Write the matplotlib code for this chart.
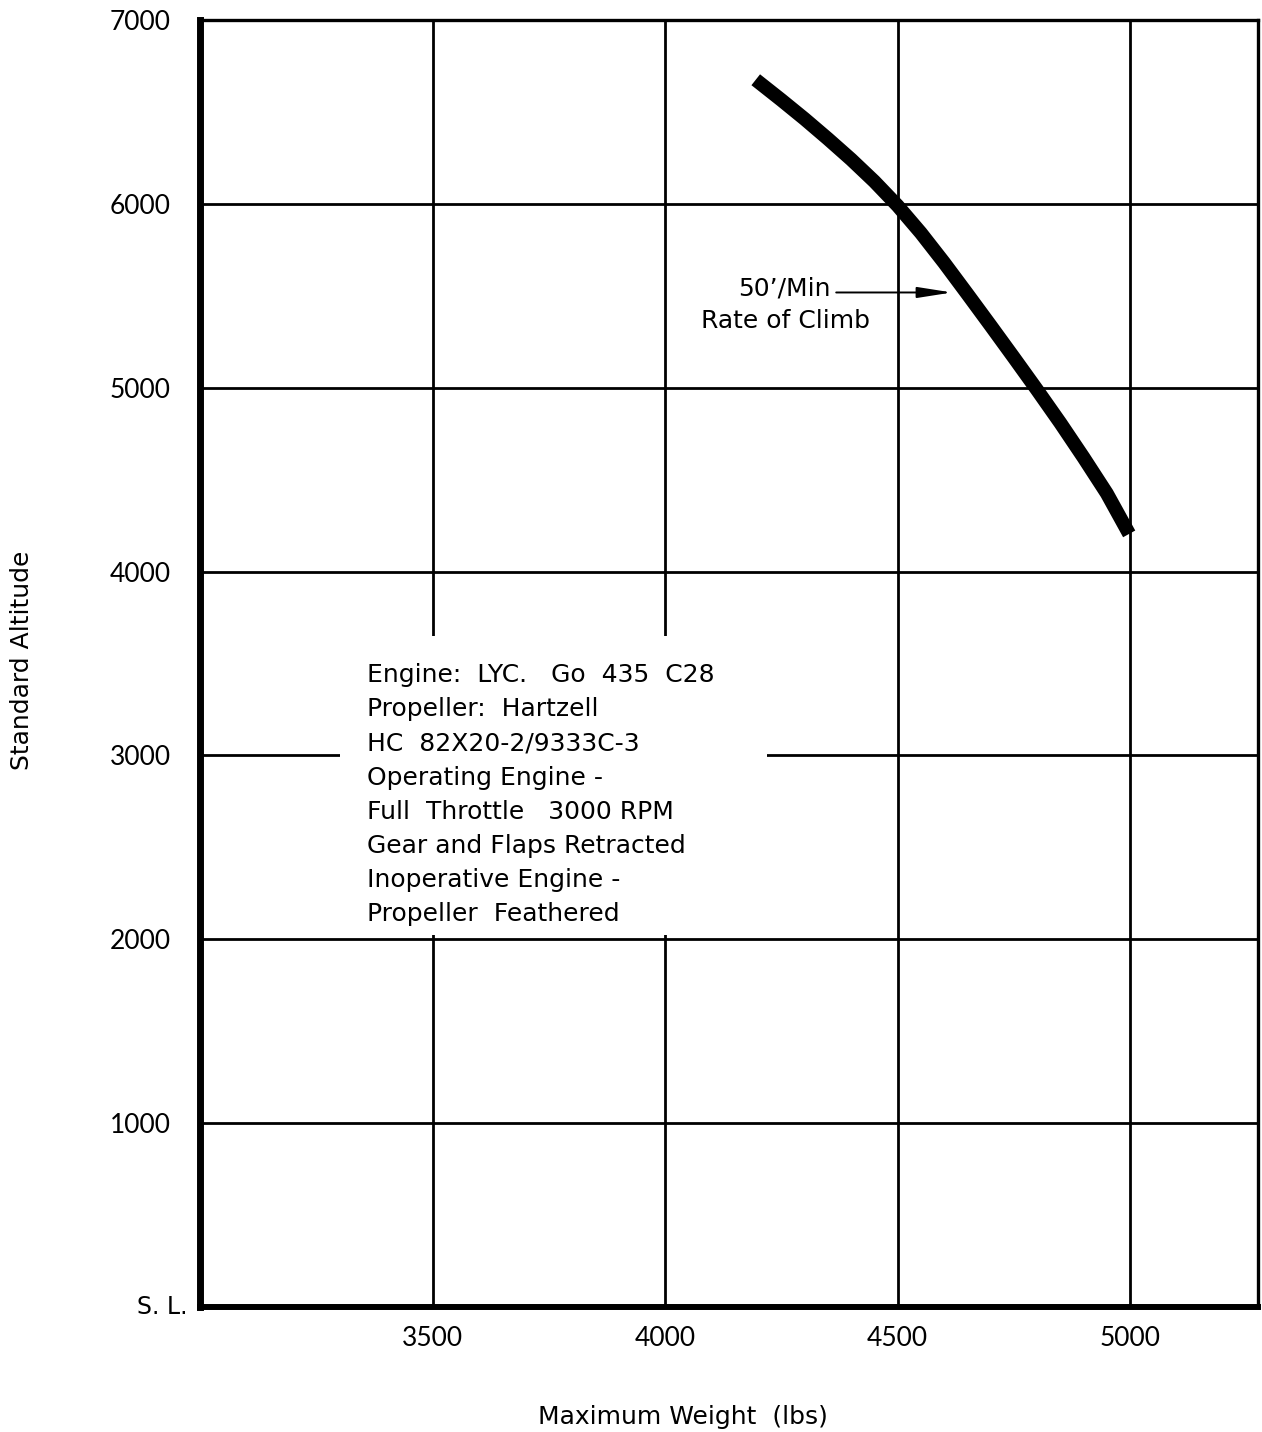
import matplotlib.pyplot as plt
from matplotlib.patches import Rectangle

# 50 ft/min rate-of-climb line (single engine)
weight = [4195, 4250, 4300, 4350, 4400, 4450, 4500, 4550, 4600, 4650,
          4700, 4750, 4800, 4850, 4900, 4950, 4998]
altitude = [6675, 6565, 6462, 6354, 6242, 6122, 5990, 5842, 5680, 5510,
            5338, 5164, 4988, 4808, 4620, 4425, 4205]

x_ticks = [3500, 4000, 4500, 5000]
y_ticks = [1000, 2000, 3000, 4000, 5000, 6000, 7000]

notes = [
    "Engine:  LYC.   Go  435  C28",
    "Propeller:  Hartzell",
    "HC  82X20-2/9333C-3",
    "Operating Engine -",
    "Full  Throttle   3000 RPM",
    "Gear and Flaps Retracted",
    "Inoperative Engine -",
    "Propeller  Feathered",
]

plt.rcParams['font.family'] = ['Lato', 'DejaVu Sans']
txt = ['DejaVu Sans']
fs = 18

fig = plt.figure(figsize=(12.62, 14.32), dpi=100)
ax = fig.add_axes([200 / 1262, 1 - 1307 / 1432, 1058 / 1262, 1287 / 1432])

ax.set_xlim(3000, 5275)
ax.set_ylim(0, 7000)

ax.set_xticks(x_ticks)
ax.set_xticklabels([str(v) for v in x_ticks], fontsize=19)
ax.set_yticks(y_ticks)
ax.set_yticklabels([str(v) for v in y_ticks], fontsize=19)
ax.tick_params(axis='both', length=0)
ax.tick_params(axis='y', pad=21)
ax.tick_params(axis='x', pad=14)

ax.grid(True, color='black', linewidth=2.0, zorder=1)

for side, lw in [('left', 5), ('bottom', 4.3), ('top', 2.4), ('right', 2.4)]:
    ax.spines[side].set_linewidth(lw)
    ax.spines[side].set_color('black')
    ax.spines[side].set_zorder(3)

# sea level label
ax.annotate('S. L.', xy=(0, 0), xycoords=('axes fraction', 'data'),
            xytext=(-9, 0), textcoords='offset points',
            ha='right', va='center', fontsize=17, family=txt)

# white panel behind the notes
ax.add_patch(Rectangle((3302, 2025), 918, 1625, facecolor='white',
                       edgecolor='none', zorder=2))

for i, line in enumerate(notes):
    ax.annotate(line, xy=(3359, 3399), xycoords='data',
                xytext=(0, -i * 24.6), textcoords='offset points',
                ha='left', va='baseline', fontsize=fs, family=txt, zorder=4)

ax.plot(weight, altitude, color='black', linewidth=10,
        solid_capstyle='butt', solid_joinstyle='round', zorder=5)

ax.text(4357, 5542, '50’/Min', ha='right', va='center', fontsize=fs,
        family=txt, zorder=4)
ax.text(4258, 5363, 'Rate of Climb', ha='center', va='center', fontsize=fs,
        family=txt, zorder=4)
ax.annotate('', xy=(4617, 5518), xytext=(4368, 5518),
            arrowprops=dict(arrowstyle='-|>,head_length=1.4,head_width=0.22',
                            color='black', lw=1.4, mutation_scale=15,
                            shrinkA=0, shrinkB=0),
            zorder=4)

fig.text(22 / 1262, 1 - 660 / 1432, 'Standard Altitude', rotation=90,
         ha='center', va='center', fontsize=fs, family=txt)
fig.text(683 / 1262, 1 - 1417 / 1432, 'Maximum Weight  (lbs)',
         ha='center', va='center', fontsize=fs, family=txt)

fig.savefig('out.png', dpi=100)
